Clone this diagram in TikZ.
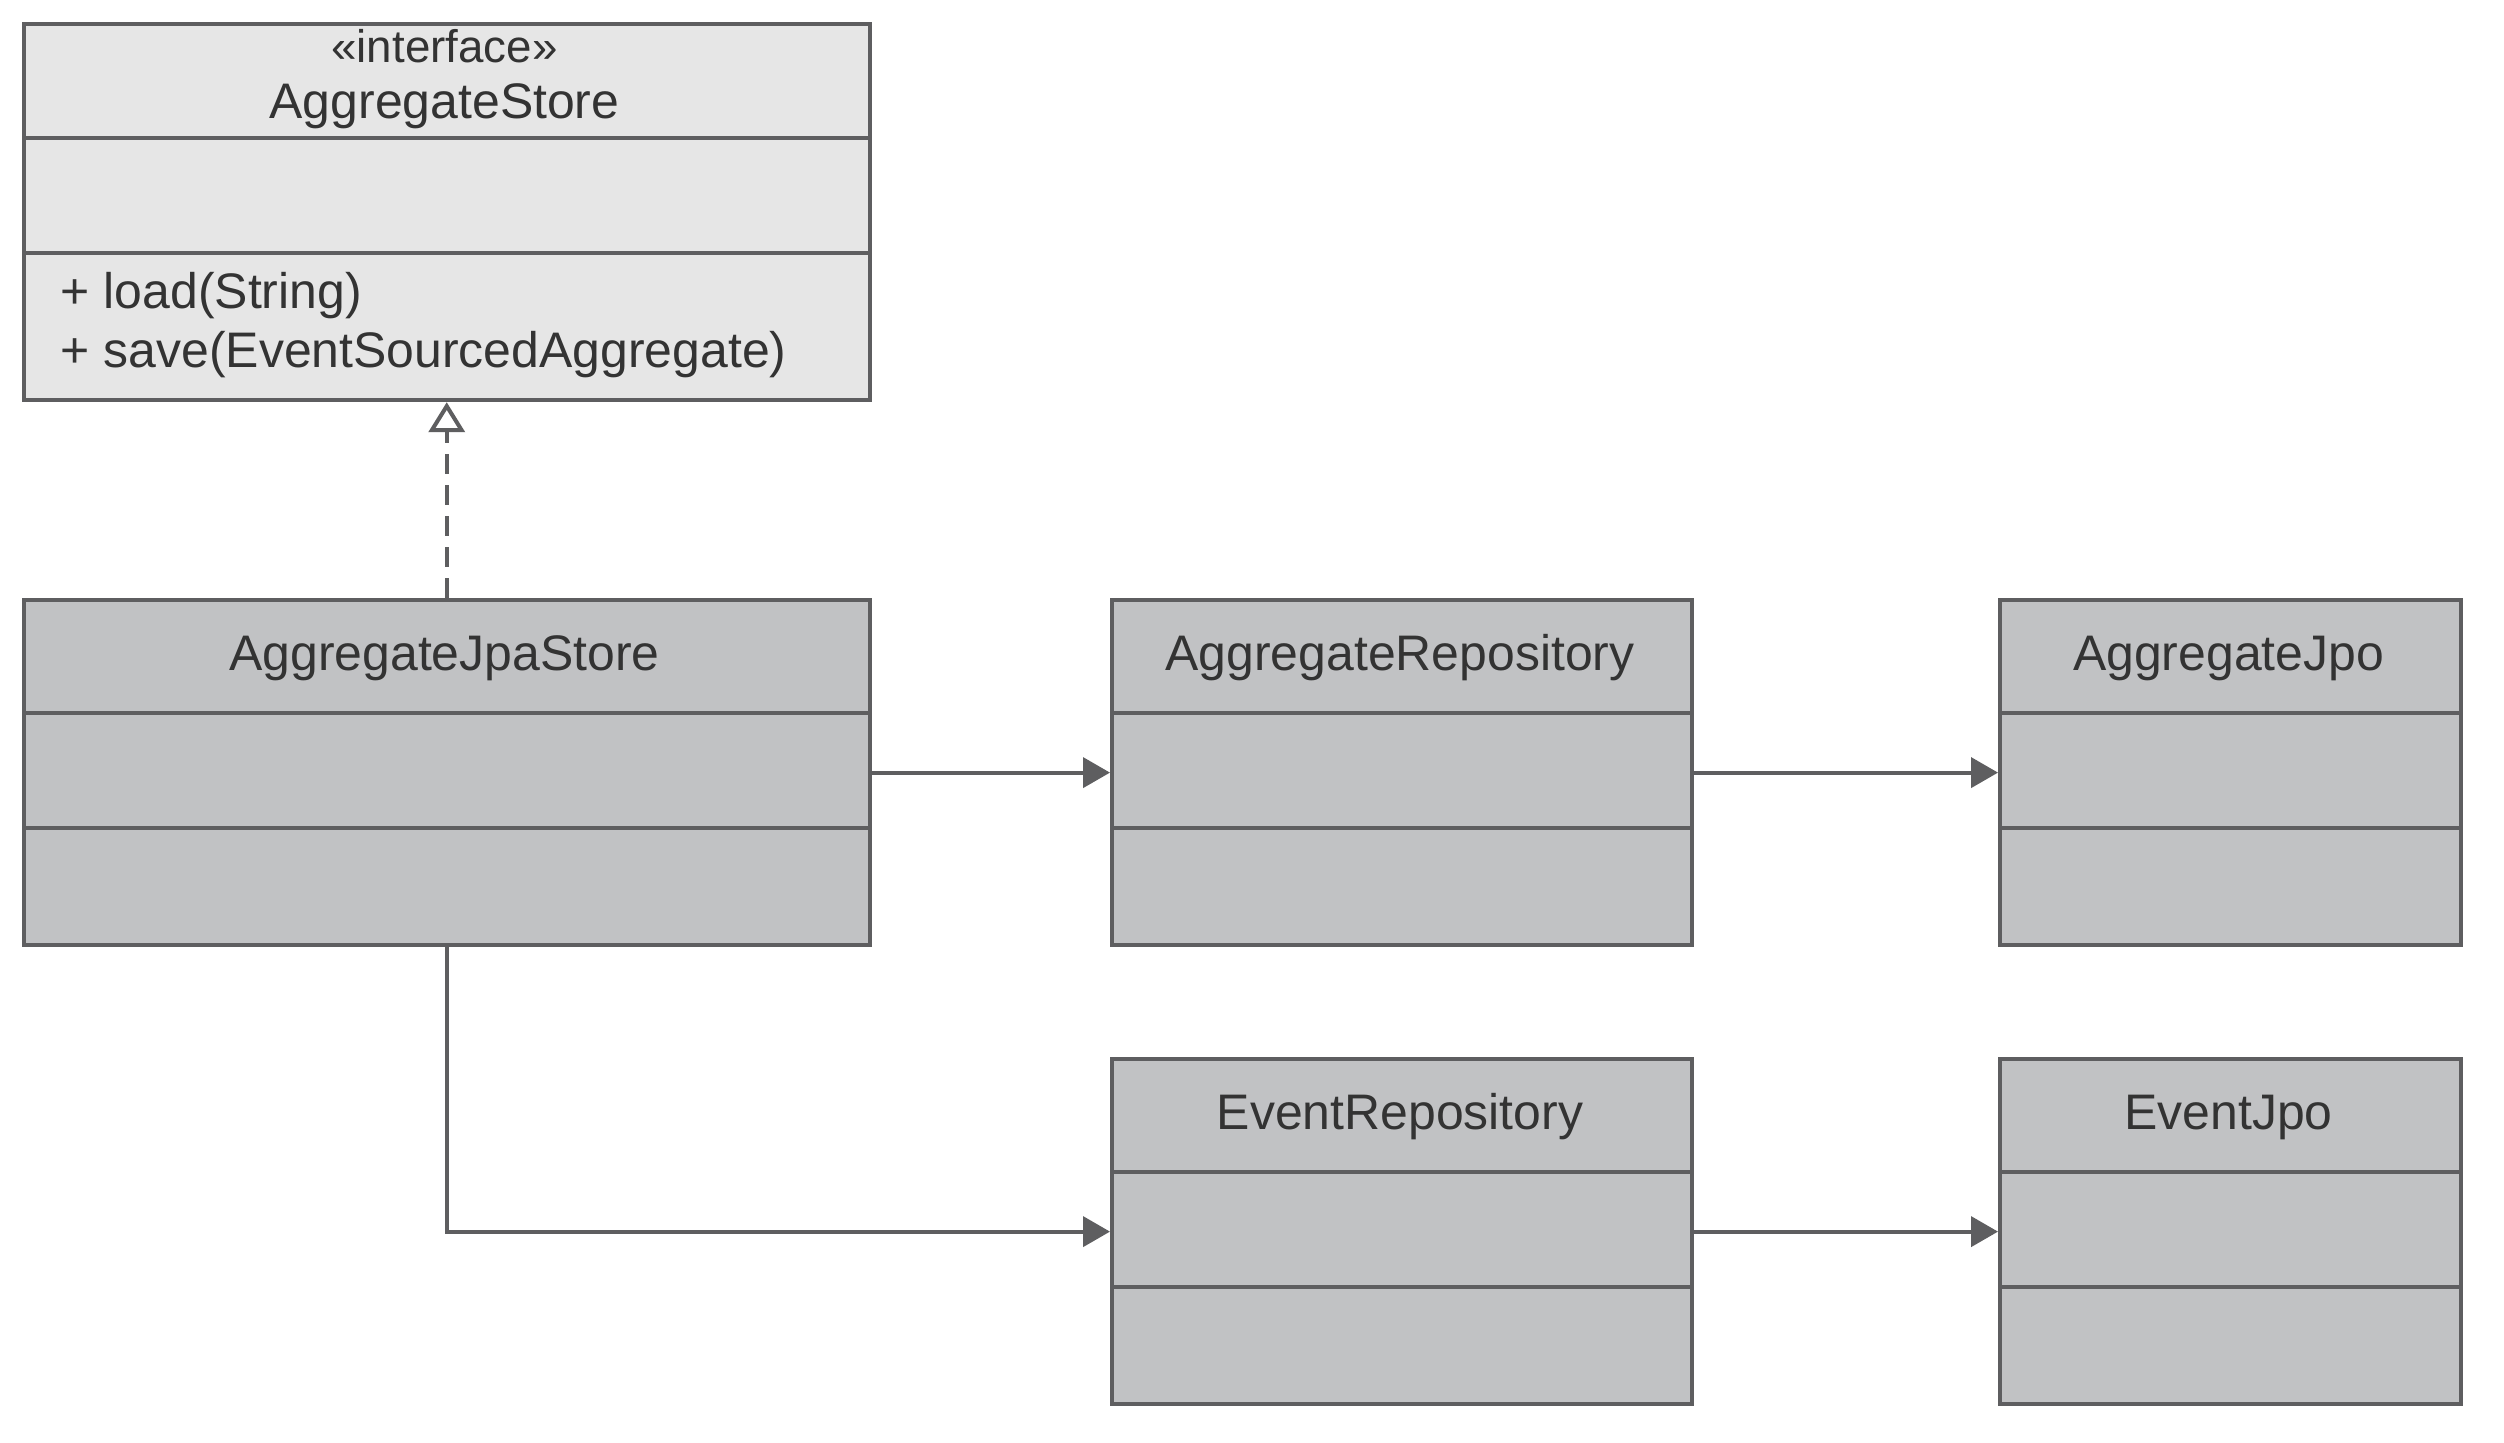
\documentclass[tikz,border=0pt]{standalone}
\usepackage{fontspec}
\setmainfont{Liberation Sans}
\usetikzlibrary{arrows.meta}
\definecolor{edgec}{HTML}{5E5E60}
\definecolor{ifill}{HTML}{E6E6E6}
\definecolor{cfill}{HTML}{C1C2C4}
\definecolor{txtc}{HTML}{333333}
\begin{document}
\begin{tikzpicture}[x=0.01cm,y=-0.01cm,
  box/.style={draw=edgec, line width=0.04cm, rectangle, inner sep=0pt, anchor=north west},
  ibox/.style={box, fill=ifill},
  cbox/.style={box, fill=cfill},
  sepline/.style={draw=edgec, line width=0.04cm},
  title/.style={anchor=base, inner sep=0pt, text=txtc, font=\fontsize{14.2pt}{17pt}\selectfont},
  stereo/.style={anchor=base, inner sep=0pt, text=txtc, font=\fontsize{13pt}{15pt}\selectfont},
  meth/.style={anchor=base west, inner sep=0pt, text=txtc, font=\fontsize{14.2pt}{17pt}\selectfont},
  conn/.style={draw=edgec, line width=0.04cm},
  assoc/.style={conn, -{Triangle[length=0.27cm,width=0.30cm]}},
  realize/.style={conn, dash pattern=on 0.2cm off 0.11cm, -{Triangle[length=0.30cm,width=0.36cm,fill=white]}}
]
\useasboundingbox[fill=white] (0,0) rectangle (2504,1442);

% boxes
\node[ibox, minimum width=8.45cm, minimum height=3.76cm] (as) at (22,22) {};
\node[cbox, minimum width=8.45cm, minimum height=3.45cm] (ajs) at (22,598) {};
\node[cbox, minimum width=5.80cm, minimum height=3.45cm] (ar) at (1110,598) {};
\node[cbox, minimum width=4.61cm, minimum height=3.45cm] (ajpo) at (1998,598) {};
\node[cbox, minimum width=5.80cm, minimum height=3.45cm] (er) at (1110,1057) {};
\node[cbox, minimum width=4.61cm, minimum height=3.45cm] (ejpo) at (1998,1057) {};

% compartments
\draw[sepline] ([yshift=-1.16cm]as.north west) -- ([yshift=-1.16cm]as.north east);
\draw[sepline] ([yshift=-2.31cm]as.north west) -- ([yshift=-2.31cm]as.north east);
\foreach \n in {ajs,ar,ajpo,er,ejpo}{
  \draw[sepline] ([yshift=-1.15cm]\n.north west) -- ([yshift=-1.15cm]\n.north east);
  \draw[sepline] ([yshift=-2.30cm]\n.north west) -- ([yshift=-2.30cm]\n.north east);
}

% texts
\node[stereo] (ster) at (444.5,62) {«interface»};
\node[title] (tas) at (444.5,118) {AggregateStore};
\node[meth] (m1) at (60,308) {+ load(String)};
\node[meth] (m2) at (60,367) {+ save(EventSourcedAggregate)};
\node[title] (tajs) at (444.5,670) {AggregateJpaStore};
\node[title] (tar) at (1400,670) {AggregateRepository};
\node[title] (tajpo) at (2228.5,670) {AggregateJpo};
\node[title] (ter) at (1400,1129) {EventRepository};
\node[title] (tejpo) at (2228.5,1129) {EventJpo};

% connectors
\draw[realize] (ajs.north) -- (as.south);
\draw[assoc] (ajs.east) -- (ar.west);
\draw[assoc] (ar.east) -- (ajpo.west);
\draw[assoc] (ajs.south) |- (er.west);
\draw[assoc] (er.east) -- (ejpo.west);
\end{tikzpicture}
\end{document}
